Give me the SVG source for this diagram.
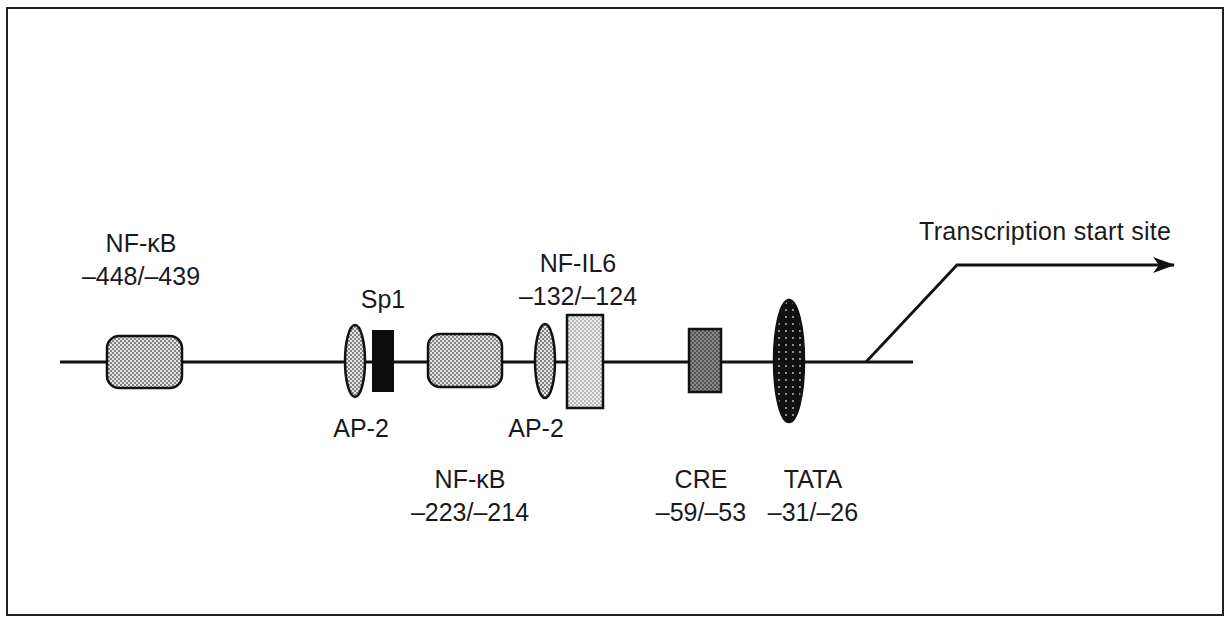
<svg xmlns="http://www.w3.org/2000/svg" width="1227" height="618" viewBox="0 0 1227 618">
<defs>
<style>
text{font-family:"Liberation Sans",Arial,sans-serif;font-size:25px;fill:#1a1a1a;text-anchor:middle}
.ln{stroke:#111;stroke-width:2.8;fill:none}
.sh{stroke:#111;stroke-width:2.5}
</style>
<pattern id="dotL" width="4" height="4" patternUnits="userSpaceOnUse">
<rect width="4" height="4" fill="#e4e4e4"/>
<circle cx="1" cy="1" r="0.9" fill="#555"/>
<circle cx="3" cy="3" r="0.9" fill="#555"/>
</pattern>
<pattern id="dotXL" width="4" height="4" patternUnits="userSpaceOnUse">
<rect width="4" height="4" fill="#ececec"/>
<circle cx="1" cy="1" r="0.8" fill="#777"/>
<circle cx="3" cy="3" r="0.8" fill="#777"/>
</pattern>
<pattern id="dotD" width="4" height="4" patternUnits="userSpaceOnUse">
<rect width="4" height="4" fill="#555"/>
<circle cx="1" cy="1" r="0.8" fill="#ccc"/>
<circle cx="3" cy="3" r="0.8" fill="#ccc"/>
</pattern>
<pattern id="dotB" width="7" height="7" patternUnits="userSpaceOnUse">
<rect width="7" height="7" fill="#111"/>
<circle cx="2" cy="2" r="0.9" fill="#ccc"/>
</pattern>
<marker id="arr" markerWidth="22" markerHeight="16" refX="21" refY="8" orient="auto" markerUnits="userSpaceOnUse">
<path d="M0,0 L22,8 L0,16 L6,8 Z" fill="#111"/>
</marker>
</defs>
<rect x="7" y="8" width="1216" height="607" fill="#fff" stroke="#222" stroke-width="2"/>
<g id="connectors">
<line class="ln" x1="60" y1="362" x2="913" y2="362"/>
<polyline class="ln" points="866,362 957,265 1174,265" marker-end="url(#arr)"/>
</g>
<g id="nfkb1">
<rect class="sh" x="107" y="336" width="75" height="52" rx="12" fill="url(#dotL)"/>
<text x="141" y="252">NF-κB</text>
<text x="141" y="285">–448/–439</text>
</g>
<g id="ap2a">
<ellipse class="sh" cx="355" cy="361" rx="10" ry="36" fill="url(#dotL)"/>
<text x="361" y="437">AP-2</text>
</g>
<g id="sp1">
<rect x="372" y="330" width="22" height="62" fill="#0d0d0d"/>
<text x="383" y="308">Sp1</text>
</g>
<g id="nfkb2">
<rect class="sh" x="428" y="334" width="74" height="53" rx="12" fill="url(#dotL)"/>
<text x="470" y="488">NF-κB</text>
<text x="470" y="521">–223/–214</text>
</g>
<g id="ap2b">
<ellipse class="sh" cx="545" cy="361" rx="10" ry="37" fill="url(#dotL)"/>
<text x="536" y="437">AP-2</text>
</g>
<g id="nfil6">
<rect class="sh" x="567" y="315" width="36" height="93" fill="url(#dotXL)"/>
<text x="578" y="272">NF-IL6</text>
<text x="578" y="305">–132/–124</text>
</g>
<g id="cre">
<rect class="sh" x="689" y="329" width="32" height="63" fill="url(#dotD)"/>
<text x="701" y="488">CRE</text>
<text x="701" y="521">–59/–53</text>
</g>
<g id="tata">
<ellipse class="sh" cx="789" cy="361" rx="15" ry="61" fill="url(#dotB)"/>
<text x="813" y="488">TATA</text>
<text x="813" y="521">–31/–26</text>
</g>
<g id="tss">
<text x="1045" y="240" textLength="252">Transcription start site</text>
</g>
</svg>
